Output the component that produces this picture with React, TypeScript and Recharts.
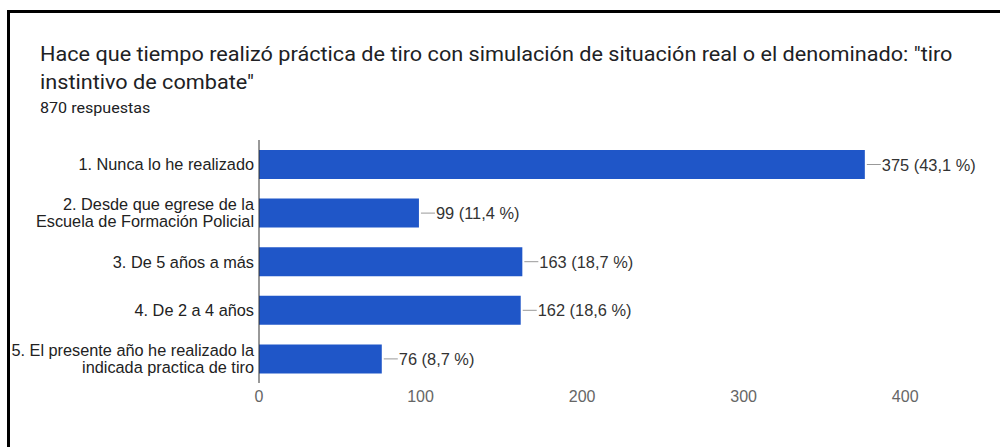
import { BarChart, Bar, XAxis, YAxis, LabelList } from "recharts"

const categories = [
  "1. Nunca lo he realizado",
  "2. Desde que egrese de la\nEscuela de Formación Policial",
  "3. De 5 años a más",
  "4. De 2 a 4 años",
  "5. El presente año he realizado la\nindicada practica de tiro",
]
const counts = [375, 99, 163, 162, 76]
const percents = ["43,1", "11,4", "18,7", "18,6", "8,7"]
const xTicks = [0, 100, 200, 300, 400]

const data = categories.map((name, i) => ({ name, value: counts[i] }))

const labelFont = "'Liberation Sans', Arial, sans-serif"

function CategoryTick(props: any) {
  const { x, y, payload } = props
  const lines = String(payload.value).split("\n")
  const lh = 17
  const start = y - ((lines.length - 1) * lh) / 2
  return (
    <text x={x} y={start} textAnchor="end" fontSize={16.3} fill="#222" fontFamily={labelFont} dominantBaseline="central">
      {lines.map((l, i) => (
        <tspan key={i} x={x} y={start + i * lh}>
          {l}
        </tspan>
      ))}
    </text>
  )
}

function ValueLabel(props: any) {
  const { x, y, width, height, value, index } = props
  const ex = x + width
  const cy = y + height / 2
  return (
    <g>
      <line x1={ex + 2} y1={cy} x2={ex + 16} y2={cy} stroke="#999" strokeWidth={1} />
      <text x={ex + 17} y={cy} fontSize={16.4} fill="#333" fontFamily={labelFont} dominantBaseline="central">
        {`${value} (${percents[index]} %)`}
      </text>
    </g>
  )
}

export default function App() {
  return (
    <div style={{ position: "absolute", left: 0, top: 0, width: 1000, height: 447, background: "#fff", overflow: "hidden" }}>
      <div
        style={{
          position: "absolute",
          left: 7,
          top: 10,
          width: 1000,
          height: 440,
          borderLeft: "3px solid #000",
          borderTop: "3px solid #000",
        }}
      />
      <div
        style={{
          position: "absolute",
          left: 40,
          top: 41,
          fontFamily: "Roboto, sans-serif",
          fontSize: 19.5,
          lineHeight: "28px",
          color: "#202124",
          whiteSpace: "nowrap",
          transform: "scaleX(1.11)",
          transformOrigin: "left top",
        }}
      >
        Hace que tiempo realizó práctica de tiro con simulación de situación real o el denominado: "tiro
        <br />
        instintivo de combate"
      </div>
      <div
        style={{
          position: "absolute",
          left: 40,
          top: 100,
          fontFamily: "Roboto, sans-serif",
          fontSize: 14.5,
          color: "#202124",
          whiteSpace: "nowrap",
          transform: "scaleX(1.11)",
          transformOrigin: "left top",
        }}
      >
        870 respuestas
      </div>
      <div style={{ position: "absolute", left: 0, top: 0 }}>
        <BarChart
          width={1000}
          height={447}
          data={data}
          layout="vertical"
          margin={{ top: 140, right: 14, bottom: 34, left: 0 }}
          barSize={29}
        >
          <XAxis
            type="number"
            domain={[0, 450]}
            ticks={xTicks}
            axisLine={false}
            tickLine={false}
            height={30}
            tick={{ fill: "#666", fontSize: 16, fontFamily: labelFont }}
          />
          <YAxis
            type="category"
            dataKey="name"
            width={259}
            axisLine={{ stroke: "#333" }}
            tickLine={false}
            tickSize={5}
            tickMargin={0}
            tick={<CategoryTick />}
          />
          <Bar dataKey="value" fill="#1f56c8" isAnimationActive={false}>
            <LabelList dataKey="value" content={<ValueLabel />} />
          </Bar>
        </BarChart>
      </div>
    </div>
  )
}
